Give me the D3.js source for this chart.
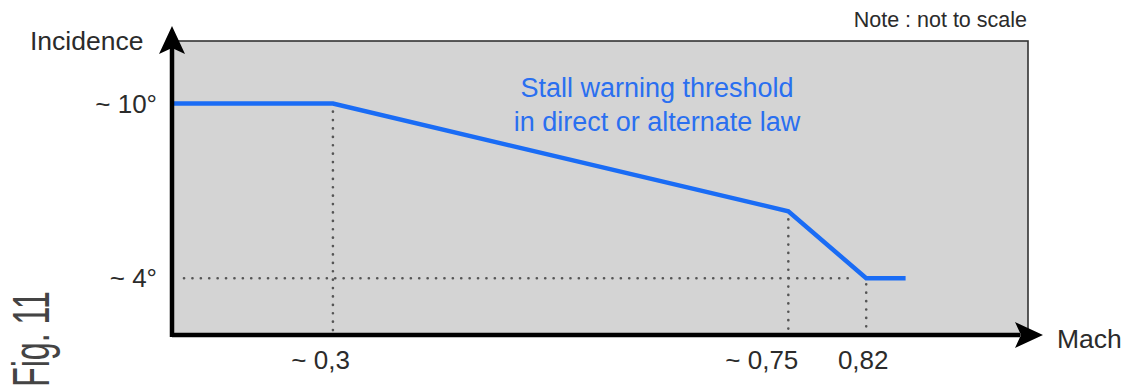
<!DOCTYPE html>
<html><head><meta charset="utf-8">
<script src="https://cdn.jsdelivr.net/npm/d3@7"></script>
<style>html,body{margin:0;padding:0;background:#fff;}svg{display:block;}</style>
</head><body>
<svg id="c" width="1129" height="388"></svg>
<script>
// Data (schematic, "not to scale")
const mach = [0, 0.3, 0.75, 0.82, 0.86];
const incidence = [10, 10, 6.3, 4, 4];
const xTicks = [0.3, 0.75, 0.82];
const xTickLabels = ["~ 0,3", "~ 0,75", "0,82"];
const yTicks = [10, 4];
const yTickLabels = ["~ 10°", "~ 4°"];
// schematic positions along the axis (fraction of plot width) for each breakpoint
const machDomain = [0, 0.3, 0.75, 0.82, 0.86, 0.95];
const machFrac = [0, 0.188, 0.72, 0.811, 0.857, 1];

const svg = d3.select("#c");
const L = 172, R = 1028, T = 41, B = 335;
const x = d3.scaleLinear().domain(machDomain).range(machFrac.map(f => L + f * (R - L)));
const y = d3.scaleLinear().domain([2.05, 12.15]).range([B, T]);

// gray panel
svg.append("rect").attr("x", L).attr("y", T).attr("width", R - L).attr("height", B - T)
  .attr("fill", "#d4d4d4").attr("stroke", "#333").attr("stroke-width", 1.6);

// dotted guide lines
const dot = {stroke: "#555", "stroke-width": 2.6, "stroke-dasharray": "0.1 8.3", "stroke-linecap": "round"};
function dline(x1, y1, x2, y2) {
  const l = svg.append("line").attr("x1", x1).attr("y1", y1).attr("x2", x2).attr("y2", y2);
  Object.entries(dot).forEach(([k, v]) => l.attr(k, v));
}
dline(x(0.3), y(10) + 8, x(0.3), B - 4);
dline(x(0.75), y(6.3) + 8, x(0.75), B - 4);
dline(x(0.82), y(4) + 6, x(0.82), B - 4);
dline(L + 12, y(4), x(0.82) - 16, y(4));

// threshold line
const pts = mach.map((m, i) => [x(m), y(incidence[i])]);
svg.append("path").attr("d", d3.line()(pts)).attr("fill", "none")
  .attr("stroke", "#1a6cf5").attr("stroke-width", 4.5).attr("stroke-linejoin", "miter");

// axes
svg.append("line").attr("x1", L).attr("y1", B).attr("x2", 1020).attr("y2", B)
  .attr("stroke", "#000").attr("stroke-width", 4.5);
svg.append("line").attr("x1", L).attr("y1", B + 2).attr("x2", L).attr("y2", 48)
  .attr("stroke", "#000").attr("stroke-width", 4.5);
svg.append("path").attr("d", "M1043,335 L1015,322 L1021,335 L1015,348 Z").attr("fill", "#000");
svg.append("path").attr("d", "M172,26 L159,54 L172,48 L185,54 Z").attr("fill", "#000");

const font = "Liberation Sans, Arial, Helvetica, sans-serif";
const txt = "#2b2b2b";
// y tick labels
yTicks.forEach((v, i) => {
  svg.append("text").attr("x", 157).attr("y", y(v) + 9).attr("text-anchor", "end")
    .attr("font-family", font).attr("font-size", 26).attr("fill", txt).text(yTickLabels[i]);
});
// x tick labels
xTicks.forEach((v, i) => {
  const lab = xTickLabels[i];
  const t = svg.append("text").attr("y", 369).attr("font-family", font).attr("font-size", 26).attr("fill", txt).text(lab);
  if (lab.startsWith("~")) t.attr("x", x(v) + (i === 0 ? 17 : 10)).attr("text-anchor", "end");
  else t.attr("x", x(v) - 3).attr("text-anchor", "middle");
});
// axis titles
svg.append("text").attr("x", 30).attr("y", 50).attr("font-family", font).attr("font-size", 26.5).attr("fill", txt).text("Incidence");
svg.append("text").attr("x", 1057).attr("y", 348).attr("font-family", font).attr("font-size", 26.5).attr("fill", txt).text("Mach");
svg.append("text").attr("x", 1027).attr("y", 27).attr("text-anchor", "end").attr("font-family", font).attr("font-size", 21.5).attr("fill", txt).text("Note : not to scale");
// annotation
const ann = svg.append("text").attr("text-anchor", "middle").attr("font-family", font).attr("font-size", 27).attr("fill", "#2a6ff0");
ann.append("tspan").attr("x", 657).attr("y", 97).text("Stall warning threshold");
ann.append("tspan").attr("x", 657).attr("y", 131).text("in direct or alternate law");
// Fig label
svg.append("text").attr("transform", "translate(49,387) rotate(-90)")
  .attr("font-family", font).attr("font-size", 52).attr("font-weight", 300).attr("fill", "#444")
  .attr("textLength", 96).attr("lengthAdjust", "spacingAndGlyphs").text("Fig. 11");
</script>
</body></html>
